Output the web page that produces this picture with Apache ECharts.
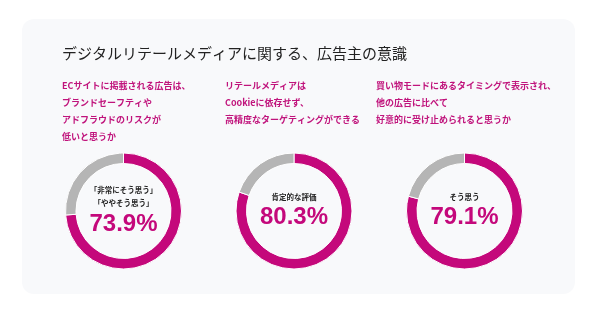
<!DOCTYPE html>
<html>
<head>
<meta charset="utf-8">
<script src="https://cdn.jsdelivr.net/npm/echarts@6/dist/echarts.min.js"></script>
<style>
  html, body { margin: 0; padding: 0; background: #ffffff; }
  #chart { width: 600px; height: 314px; }
</style>
</head>
<body>
<div id="chart"></div>
<script>
const mainTitle = 'デジタルリテールメディアに関する、広告主の意識';
const questions = [
    'ECサイトに掲載される広告は、\nブランドセーフティや\nアドフラウドのリスクが\n低いと思うか',
    'リテールメディアは\nCookieに依存せず、\n高精度なターゲティングができる',
    '買い物モードにあるタイミングで表示され、\n他の広告に比べて\n好意的に受け止められると思うか',
];
const captions = ['「非常にそう思う」\n「ややそう思う」', '肯定的な評価', 'そう思う'];
const positive = [73.9, 80.3, 79.1];
const other = [26.1, 19.7, 20.9];

const magenta = '#c4087b';
const grey = '#b5b5b5';
const jpFont = '"Noto Sans CJK JP", "Noto Sans", sans-serif';
const colX = [62, 225, 376];
const centerX = [123.5, 294, 464.5];

const chart = echarts.init(document.getElementById('chart'), null, { renderer: 'canvas' });

const titles = [{
    text: mainTitle,
    left: 62,
    top: 46,
    padding: 0,
    textStyle: { color: '#222222', fontSize: 15, fontWeight: 'normal', fontFamily: jpFont },
}];
questions.forEach((q, i) => {
    titles.push({
        text: q,
        left: colX[i],
        top: 77.5,
        padding: 0,
        textStyle: { color: '#c0147c', fontSize: 9, fontWeight: 'bold', fontFamily: jpFont, lineHeight: 17 },
    });
});

const series = positive.map((v, i) => ({
    type: 'pie',
    center: [centerX[i], 211],
    radius: [47.5, 58],
    startAngle: 90,
    clockwise: true,
    silent: true,
    animation: false,
    emphasis: { disabled: true },
    labelLine: { show: false },
    itemStyle: { borderColor: '#ffffff', borderWidth: 1 },
    data: [
        {
            value: v,
            itemStyle: { color: magenta },
            label: {
                show: true,
                position: 'center',
                formatter: (p) => `{c|${captions[i]}}\n{v|${p.value.toFixed(1)}%}`,
                rich: {
                    c: { fontSize: 7.5, fontWeight: 'bold', color: '#222222', fontFamily: jpFont, lineHeight: 13, align: 'center' },
                    v: { fontSize: 24, fontWeight: 'bold', color: magenta, fontFamily: '"Liberation Sans", Arial, sans-serif', lineHeight: 28, align: 'center' },
                },
            },
        },
        { value: other[i], itemStyle: { color: grey }, label: { show: false } },
    ],
}));

chart.setOption({
    backgroundColor: '#ffffff',
    animation: false,
    graphic: [{
        type: 'rect',
        z: -10,
        shape: { x: 22, y: 19, width: 553, height: 275, r: 12 },
        style: { fill: '#f8f9fb' },
    }],
    title: titles,
    series,
});
</script>
</body>
</html>
